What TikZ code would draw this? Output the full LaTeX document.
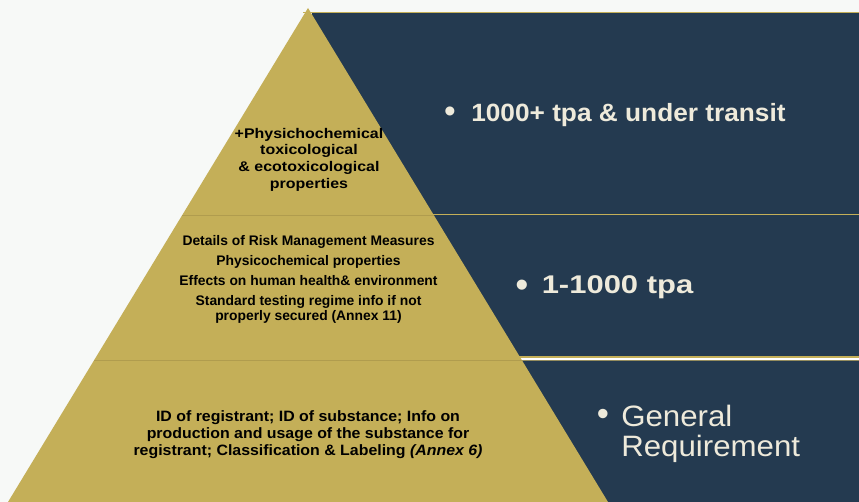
\documentclass[tikz,border=0pt]{standalone}
\usepackage{fontspec}
\setmainfont{Liberation Sans}
\newfontfamily\stretchA[FakeStretch=1.14]{Liberation Sans}
\newfontfamily\stretchB[FakeStretch=1.06]{Liberation Sans}
\newfontfamily\stretchC[FakeStretch=1.05]{Liberation Sans}
\newfontfamily\stretchD[FakeStretch=1.21]{Liberation Sans}
\definecolor{bgc}{HTML}{F7F9F7}
\definecolor{goldc}{HTML}{C4AF58}
\definecolor{navyc}{HTML}{243A50}
\definecolor{creamc}{HTML}{EEEADB}
\definecolor{bandline}{HTML}{B09C4E}
\definecolor{olivec}{HTML}{948C5E}
\tikzset{
  pyrtext/.style={inner sep=0pt, align=center, text=black},
  paneltext/.style={inner sep=0pt, text=creamc, anchor=base west},
  bulletmark/.style={inner sep=0pt, text=creamc, anchor=base},
  sepline/.style={draw=goldc, line width=1.1pt}
}
\begin{document}
\begin{tikzpicture}[x=0.75pt,y=-0.75pt]
\useasboundingbox (0,0) rectangle (859,502);
\fill[bgc] (0,0) rectangle (859,502);
\begin{scope}
\clip (0,0) rectangle (859,502);
% dark panels
\fill[navyc] (312,13) rectangle (859,502);
\draw[sepline] (303,12.5) -- (859,12.5);
\draw[sepline] (420,214.5) -- (859,214.5);
\draw[draw=goldc, line width=0.8pt] (500,357) -- (859,357);
\draw[draw=white, line width=1.5pt] (500,358.6) -- (859,358.6);
\draw[draw=olivec, line width=0.8pt] (500,360.3) -- (859,360.3);
% pyramid
\coordinate (apex) at (308,8);
\coordinate (bl) at (8,502);
\coordinate (br) at (608,502);
\fill[goldc] (apex) -- (br) -- (bl) -- cycle;
\draw[bandline, line width=0.6pt] (182,215.5) -- (434,215.5);
\draw[bandline, line width=0.6pt] (94,360) -- (522,360);
\end{scope}
% pyramid texts
\node[pyrtext, font=\stretchA\bfseries\fontsize{10.5}{12.5}\selectfont] (toptext) at (309,159.7)
  {+Physichochemical\\toxicological\\\& ecotoxicological\\properties};
\node[pyrtext, font=\bfseries\fontsize{10.4}{10.9}\selectfont] (midtext) at (308.5,279.5)
  {Details of Risk Management Measures\\[4.1pt]Physicochemical properties\\[4.1pt]Effects on human health\& environment\\[4.1pt]Standard testing regime info if not\\properly secured (Annex 11)};
\node[pyrtext, font=\stretchB\bfseries\fontsize{11.25}{12.5}\selectfont] (bottext) at (308,434.5)
  {ID of registrant; ID of substance; Info on\\production and usage of the substance for\\registrant; Classification \& Labeling \textit{(Annex 6)}};
% panel texts
\node[bulletmark, font=\fontsize{25}{26}\selectfont] (b1) at (450,123) {•};
\node[paneltext, font=\stretchC\bfseries\fontsize{18.75}{20}\selectfont] (t1) at (471,122) {1000+ tpa \& under transit};
\node[bulletmark, font=\fontsize{28}{29}\selectfont] (b2) at (522,297) {•};
\node[paneltext, font=\stretchD\bfseries\fontsize{19.2}{20}\selectfont] (t2) at (541.5,293) {1-1000 tpa};
\node[bulletmark, font=\fontsize{26}{27}\selectfont] (b3) at (603,425.8) {•};
\node[inner sep=0pt, text=creamc, anchor=north west, align=left, font=\stretchB\fontsize{22.1}{22.8}\selectfont] (t3) at (621,404.5) {General\\Requirement};
\end{tikzpicture}
\end{document}
